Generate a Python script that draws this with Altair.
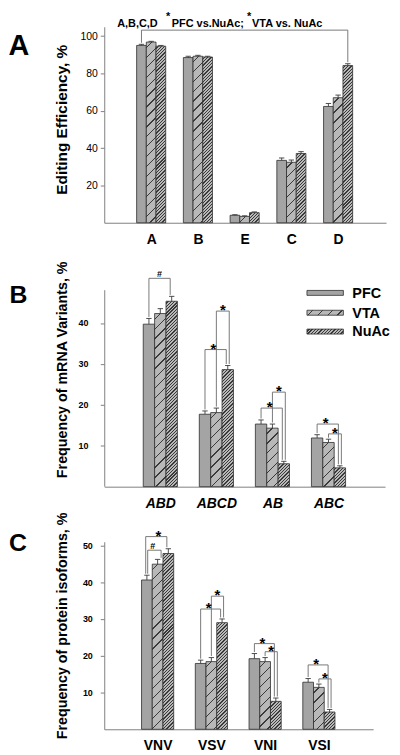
import json
import altair as alt
import pandas as pd

# ------------------------------------------------------------------ data
SERIES = ["PFC", "VTA", "NuAc"]

# Panel A : editing efficiency per site
groups_a = ["A", "B", "E", "C", "D"]
pfc_a = [95.0, 88.5, 4.0, 33.4, 62.3]
pfc_a_err = [0.6, 0.7, 0.3, 1.3, 1.6]
vta_a = [96.8, 89.2, 3.4, 32.4, 67.0]
vta_a_err = [0.4, 0.5, 0.3, 1.2, 1.4]
nuac_a = [94.6, 88.8, 5.4, 37.1, 84.2]
nuac_a_err = [0.4, 0.4, 0.4, 1.0, 1.0]
ticks_a = [20, 40, 60, 80, 100]
brk_a_top = 103.2

# Panel B : mRNA variants
groups_b = ["ABD", "ABCD", "AB", "ABC"]
pfc_b = [39.7, 17.7, 15.3, 11.9]
pfc_b_err = [1.4, 0.8, 1.0, 0.8]
vta_b = [42.3, 18.1, 14.3, 10.8]
vta_b_err = [1.2, 1.1, 1.0, 0.8]
nuac_b = [45.3, 28.6, 5.6, 4.6]
nuac_b_err = [1.2, 1.0, 0.6, 0.5]
ticks_b = [10, 20, 30, 40]
brk_b_group = [0, 1, 1, 2, 2, 3, 3]
brk_b_from = [0, 0, 1, 0, 1, 0, 1]
brk_b_to = [2, 2, 2, 2, 2, 2, 2]
brk_b_top = [50.9, 33.5, 42.9, 19.2, 23.1, 15.3, 12.9]
brk_b_sign = ["#", "*", "*", "*", "*", "*", "*"]

# Panel C : protein isoforms
groups_c = ["VNV", "VSV", "VNI", "VSI"]
pfc_c = [40.6, 17.9, 19.2, 12.8]
pfc_c_err = [1.3, 0.9, 1.4, 1.0]
vta_c = [44.9, 18.4, 18.4, 11.4]
vta_c_err = [1.3, 1.1, 1.1, 0.9]
nuac_c = [47.8, 29.0, 7.6, 4.7]
nuac_c_err = [1.3, 1.0, 0.9, 0.7]
ticks_c = [10, 20, 30, 40, 50]
brk_c_group = [0, 0, 1, 1, 2, 2, 3, 3]
brk_c_from = [0, 0, 0, 1, 0, 1, 0, 1]
brk_c_to = [2, 1, 2, 2, 2, 2, 2, 2]
brk_c_top = [52.4, 48.7, 32.7, 36.2, 23.3, 21.1, 17.5, 13.7]
brk_c_sign = ["*", "#", "*", "*", "*", "*", "*", "*"]

# ------------------------------------------------------------------ style
FONT = "Liberation Sans"
PFC_FILL = "#a4a4a4"
HATCH_BASE = "#b8b8b8"
HATCH_LINE = "#3a3a3a"
BAR_STROKE = "#2e2e2e"
AXIS_COLOR = "#808080"
BRACKET_COLOR = "#6a6a6a"
ERR_COLOR = "#3a3a3a"
HATCH = {1: (10.0, 1.3), 2: (3.3, 1.3)}   # series -> (period, line thickness) px


def hatch(w, h, period, thick):
    L = w + h
    k = L / (w * w + h * h)
    stops = [{"offset": 0, "color": HATCH_BASE}]
    pos = period * 0.5
    while pos < L:
        a = round(pos / L, 5)
        b = round(min(pos + thick, L) / L, 5)
        stops += [{"offset": a, "color": HATCH_BASE}, {"offset": a, "color": HATCH_LINE},
                  {"offset": b, "color": HATCH_LINE}, {"offset": b, "color": HATCH_BASE}]
        pos += period
    stops.append({"offset": 1, "color": HATCH_BASE})
    return {"gradient": "linear", "x1": 0, "y1": 0,
            "x2": round(k * w, 6), "y2": round(k * h, 6), "stops": stops}


ONE = pd.DataFrame({"a": [0]})


def text_at(txt, x, y, size, align="center", weight="bold", style="normal"):
    return alt.Chart(ONE).mark_text(
        text=txt, font=FONT, fontSize=size, fontWeight=weight, fontStyle=style,
        align=align, baseline="middle", color="#000"
    ).encode(x=alt.value(x), y=alt.value(y))


def build_panel(p):
    W, H, ymax = p["W"], p["H"], p["ymax"]
    step, xlo = p["step"], p["xlo"]
    xhi = xlo + W / step
    pxu = H / ymax
    bw = p["bar_px"] / step
    cap = 2.7 / step
    xs = alt.Scale(domain=[xlo, xhi], nice=False, zero=False)
    ys = alt.Scale(domain=[0, ymax], nice=False, zero=False)
    groups = p["groups"]
    manual_domain = p["axis_top"] < ymax

    rows = []
    for s in range(3):
        for g, (v, e) in enumerate(zip(p["vals"][s], p["errs"][s])):
            xc = g + (s - 1) * bw
            rows.append(dict(g=g, s=s, val=v, zero=0.0, etop=v + e, xc=xc,
                             x0=xc - bw / 2, x1=xc + bw / 2, cl=xc - cap, cr=xc + cap))
    df = pd.DataFrame(rows)

    xaxis = alt.Axis(values=list(range(len(groups))),
                     labelExpr=f"{json.dumps(groups)}[datum.value]",
                     ticks=False, tickSize=0, grid=False, domainColor=AXIS_COLOR,
                     labelFont=FONT, labelFontSize=14, labelFontWeight="bold",
                     labelFontStyle=p["xstyle"], labelBaseline="middle",
                     labelPadding=p["xpad"], labelColor="#000", labelFlush=False,
                     labelOverlap=False, title=None)
    yaxis = alt.Axis(values=p["ticks"], grid=False, domain=not manual_domain,
                     domainColor=AXIS_COLOR, tickColor=AXIS_COLOR, tickSize=4,
                     labelFont=FONT, labelFontSize=p["ylabsize"],
                     labelFontWeight=p["ylabweight"], labelPadding=p["ylabpad"],
                     labelColor="#000", title=p["ytitle"], titleFont=FONT,
                     titleFontSize=p["ytitlesize"], titleFontWeight="bold",
                     titleColor="#000", titleX=p["titleX"], titleY=p["titleY"],
                     titleAngle=270, titleAlign="center", titleBaseline="middle")
    X = lambda f: alt.X(f, scale=xs, axis=xaxis)
    Y = lambda f: alt.Y(f, scale=ys, axis=yaxis)

    layers = []
    layers.append(alt.Chart(df[df.s == 0]).mark_rect(
        fill=PFC_FILL, stroke=BAR_STROKE, strokeWidth=0.8).encode(
        x=X("x0:Q"), x2="x1", y=Y("val:Q"), y2="zero"))
    for _, r in df[df.s > 0].iterrows():
        period, thick = HATCH[int(r.s)]
        grad = hatch(p["bar_px"], r.val * pxu, period, thick)
        layers.append(alt.Chart(pd.DataFrame([r])).mark_rect(
            fill=grad, stroke=BAR_STROKE, strokeWidth=0.8).encode(
            x=X("x0:Q"), x2="x1", y=Y("val:Q"), y2="zero"))
    layers.append(alt.Chart(df).mark_rule(color=ERR_COLOR, strokeWidth=0.9).encode(
        x=X("xc:Q"), y=Y("val:Q"), y2="etop"))
    layers.append(alt.Chart(df).mark_rule(color=ERR_COLOR, strokeWidth=0.9).encode(
        x=X("cl:Q"), x2="cr", y=Y("etop:Q")))
    if manual_domain:
        layers.append(alt.Chart(pd.DataFrame({"y0": [0.0], "y1": [p["axis_top"]]})).mark_rule(
            color=AXIS_COLOR, strokeWidth=1).encode(x=alt.value(0.5), y=Y("y0:Q"), y2="y1"))

    def bx(g, s):
        return g + (s - 1) * bw

    def et(g, s):
        return float(df[(df.g == g) & (df.s == s)].etop.iloc[0])

    gap = 1.5 / pxu
    brow = []
    pairs = list(zip(p["bg"], p["bf"], p["bt"]))
    for g, f, t, top, sign in zip(p["bg"], p["bf"], p["bt"], p["btop"], p["bsign"]):
        loff, roff, frac = 0.0, 0.0, 0.5
        if (f, t) == (0, 2):
            roff = -1.5
            if (g, 1, 2) in pairs:
                frac = 0.4
            if (g, 0, 1) in pairs:
                loff, frac = -1.2, 0.6
        elif (f, t) == (1, 2):
            roff = 1.5
        elif (f, t) == (0, 1):
            loff, roff, frac = 0.8, 3.5, 0.38
        xl = bx(g, f) + loff / step
        xr = bx(g, t) + roff / step
        brow.append(dict(xl=xl, xr=xr, top=top, yl=et(g, f) + gap, yr=et(g, t) + gap,
                         xs=xl + frac * (xr - xl), sign=sign))
    if p.get("extra"):
        brow.append(p["extra"](bx, et, gap))
    bdf = pd.DataFrame(brow)
    rule = dict(color=BRACKET_COLOR, strokeWidth=0.9)
    layers.append(alt.Chart(bdf).mark_rule(**rule).encode(x=X("xl:Q"), x2="xr", y=Y("top:Q")))
    layers.append(alt.Chart(bdf).mark_rule(**rule).encode(x=X("xl:Q"), y=Y("yl:Q"), y2="top"))
    layers.append(alt.Chart(bdf).mark_rule(**rule).encode(x=X("xr:Q"), y=Y("yr:Q"), y2="top"))
    star = bdf[bdf.sign == "*"]
    hsh = bdf[bdf.sign == "#"]
    if len(star):
        layers.append(alt.Chart(star).mark_text(
            font=FONT, fontSize=15, fontWeight="bold", baseline="alphabetic",
            dy=4.3, color="#000").encode(x=X("xs:Q"), y=Y("top:Q"), text="sign:N"))
    if len(hsh):
        layers.append(alt.Chart(hsh).mark_text(
            font=FONT, fontSize=9, fontWeight="bold", baseline="alphabetic",
            dy=-1.2, color="#000").encode(x=X("xs:Q"), y=Y("top:Q"), text="sign:N"))
    return layers


# ------------------------------------------------------------------ panel A
pA = dict(groups=groups_a, vals=[pfc_a, vta_a, nuac_a], errs=[pfc_a_err, vta_a_err, nuac_a_err],
          W=284, H=197.5, ymax=105, axis_top=105, xlo=-1.004, step=47.1, bar_px=9.77,
          xstyle="normal", xpad=17, ticks=ticks_a, ylabsize=10.5,
          ylabweight="normal", ylabpad=3, ytitle="Editing Efficiency, %", ytitlesize=15.5,
          titleX=-43.3, titleY=93.2, bg=[], bf=[], bt=[], btop=[], bsign=[],
          extra=lambda bx, et, gap: dict(xl=bx(0, 0), xr=bx(4, 2), top=brk_a_top,
                                         yl=et(0, 0) + gap, yr=et(4, 2) + gap,
                                         xs=0.0, sign=""))
layA = build_panel(pA)
layA += [
    text_at("A,B,C,D", 13, -3.2, 11, align="left"),
    text_at("*", 64.3, -9.7, 11),
    text_at("PFC vs.NuAc;", 68, -3.2, 11, align="left"),
    text_at("*", 146, -9.7, 11),
    text_at("VTA vs. NuAc", 149, -3.2, 11, align="left"),
    text_at("A", -86, 19.3, 29),
]
chartA = alt.layer(*layA).properties(width=pA["W"], height=pA["H"])

# ------------------------------------------------------------------ panel B
EXT_B = 12.5  # extra px above panel B's axis, to separate it from panel A
pB = dict(groups=groups_b, vals=[pfc_b, vta_b, nuac_b], errs=[pfc_b_err, vta_b_err, nuac_b_err],
          W=283, H=198 + EXT_B, ymax=48 * (198 + EXT_B) / 198, axis_top=48,
          xlo=-1.0, step=56.5, bar_px=11.47,
          xstyle="italic", xpad=17, ticks=ticks_b, ylabsize=9,
          ylabweight="bold", ylabpad=12.5, ytitle="Frequency of mRNA Variants, %",
          ytitlesize=14.4, titleX=-42.5, titleY=79.7 + EXT_B,
          bg=brk_b_group, bf=brk_b_from, bt=brk_b_to, btop=brk_b_top, bsign=brk_b_sign)
layB = build_panel(pB)
sw_w, sw_h = 36.7, 5.0
legend_y = [2.7 + EXT_B, 22.7 + EXT_B, 41.7 + EXT_B]
for s, name in enumerate(SERIES):
    fill = PFC_FILL if s == 0 else hatch(sw_w, sw_h, *HATCH[s])
    layB.append(alt.Chart(ONE).mark_rect(fill=fill, stroke=BAR_STROKE, strokeWidth=0.8).encode(
        x=alt.value(204.3), x2=alt.value(204.3 + sw_w),
        y=alt.value(legend_y[s] - sw_h / 2), y2=alt.value(legend_y[s] + sw_h / 2)))
    layB.append(text_at(name, 250, legend_y[s] + 0.8, 14.5, align="left"))
layB.append(text_at("B", -86.5, 5.1 + EXT_B, 25))
chartB = alt.layer(*layB).properties(width=pB["W"], height=pB["H"])

# ------------------------------------------------------------------ panel C
pC = dict(groups=groups_c, vals=[pfc_c, vta_c, nuac_c], errs=[pfc_c_err, vta_c_err, nuac_c_err],
          W=271, H=189, ymax=51, axis_top=51, xlo=-0.993, step=54.17, bar_px=10.8,
          xstyle="normal", xpad=16, ticks=ticks_c, ylabsize=9,
          ylabweight="bold", ylabpad=8, ytitle="Frequency of protein isoforms, %",
          ytitlesize=14.4, titleX=-42.5, titleY=84.3,
          bg=brk_c_group, bf=brk_c_from, bt=brk_c_to, btop=brk_c_top, bsign=brk_c_sign)
layC = build_panel(pC)
layC.append(text_at("C", -87, 1.7, 25))
chartC = alt.layer(*layC).properties(width=pC["W"], height=pC["H"])

chart = alt.vconcat(chartA, chartB, chartC, spacing=55, bounds="flush").properties(
    padding={"left": 0, "top": 0, "right": 2, "bottom": 0}
).configure(font=FONT).configure_view(stroke=None)

chart.save("out.html", embed_options={"renderer": "svg", "actions": False})
